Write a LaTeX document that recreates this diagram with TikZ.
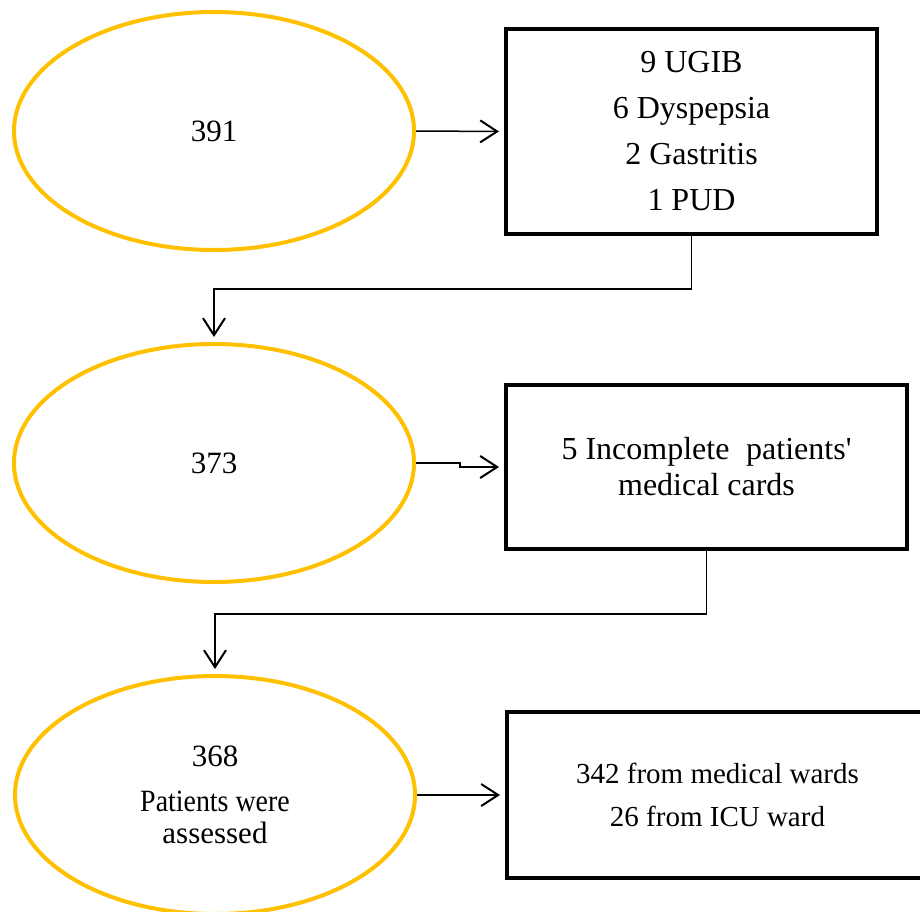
\documentclass[tikz,border=0pt]{standalone}
\usepackage{fontspec}
\usepackage{graphicx}
\setmainfont{Liberation Serif}
\usetikzlibrary{arrows.meta}
\usetikzlibrary{shapes.geometric}
\definecolor{gold}{HTML}{FFC000}

\begin{document}
\begin{tikzpicture}[x=1pt,y=-1pt,
    count/.style={ellipse,draw=gold,line width=4pt,minimum width=400pt,minimum height=238pt,inner sep=0pt,align=center,font=\fontsize{31}{32}\selectfont},
    excl/.style={rectangle,draw,line width=4pt,inner sep=0pt,align=center,font=\fontsize{29}{36}\selectfont},
    arr/.style={line width=1.5pt,-{Straight Barb[length=17pt,width=22pt,line width=2pt]},shorten >=5pt}]

    % page frame
    \path[use as bounding box,clip] (0,0) rectangle (920,911);

    % patient counts
    \node[count] (n391) at (214,131) {391};
    \node[count] (n373) at (214,463) {373};
    \node[count] (n368) at (215,795) {368\\[13pt]\scalebox{0.9}[1]{Patients were}\\assessed};

    % excluded boxes
    \node[excl,minimum width=371pt,minimum height=205pt,font=\fontsize{32}{46}\selectfont] (b1) at (691.5,131.5)
        {9 UGIB\\6 Dyspepsia\\2 Gastritis\\1 PUD};
    \node[excl,minimum width=401pt,minimum height=164pt,font=\fontsize{32}{36}\selectfont] (b2) at (706.5,467)
        {\makebox[290pt][s]{5\kern0.25em Incomplete patients\textquotesingle}\\medical cards};
    \node[excl,minimum width=421pt,minimum height=166pt,font=\fontsize{29}{43}\selectfont] (b3) at (717.5,795)
        {342 from medical wards\\26 from ICU ward};

    % arrows
    \draw[arr] (n391.east) -- (b1.west);
    \draw[arr] (b1.south) -- ++(0,53) -| (n373.north);
    \draw[arr] (n373.east) -- ++(44,0) |- (b2.west);
    \draw[arr] (b2.south) -- ++(0,63) -| (n368.north);
    \draw[arr] (n368.east) -- (n368.east -| b3.west);
\end{tikzpicture}
\end{document}
